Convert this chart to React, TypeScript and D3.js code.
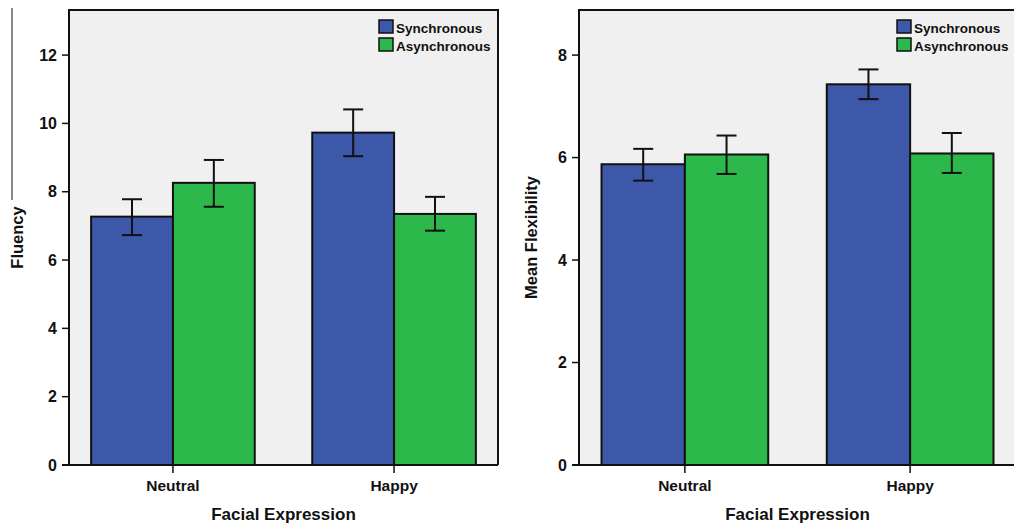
import * as d3 from "d3";

const categories = ["Neutral", "Happy"];
const seriesNames = ["Synchronous", "Asynchronous"];
const seriesColors = ["#3d57a9", "#2db84b"];

// Fluency (left panel)
const fluencySync = [7.27, 9.73];
const fluencySyncLo = [6.73, 9.04];
const fluencySyncHi = [7.78, 10.41];
const fluencyAsync = [8.26, 7.35];
const fluencyAsyncLo = [7.56, 6.86];
const fluencyAsyncHi = [8.93, 7.85];
const fluencyTicks = [0, 2, 4, 6, 8, 10, 12];

// Mean flexibility (right panel)
const flexSync = [5.87, 7.43];
const flexSyncLo = [5.55, 7.14];
const flexSyncHi = [6.17, 7.72];
const flexAsync = [6.06, 6.08];
const flexAsyncLo = [5.68, 5.7];
const flexAsyncHi = [6.43, 6.48];
const flexTicks = [0, 2, 4, 6, 8];

const FONT = "'Liberation Sans', Arial, sans-serif";
const TOP = 10;
const BOTTOM = 465;

type PanelProps = {
  x0: number;
  x1: number;
  yMax: number;
  ticks: number[];
  yLabel: string;
  yLabelX: number;
  means: number[][];
  lows: number[][];
  highs: number[][];
};

function Panel({ x0, x1, yMax, ticks, yLabel, yLabelX, means, lows, highs }: PanelProps) {
  const xBand = d3.scaleBand().domain(categories).range([x0, x1]).paddingInner(0.26).paddingOuter(0.1);
  const xSeries = d3.scaleBand().domain(seriesNames).range([0, xBand.bandwidth()]);
  const y = d3.scaleLinear().domain([0, yMax]).range([BOTTOM, TOP]);
  const midY = (TOP + BOTTOM) / 2;

  return (
    <g>
      <rect x={x0} y={TOP} width={x1 - x0} height={BOTTOM - TOP} fill="#f0f0f0" />
      {categories.map((c, ci) =>
        seriesNames.map((s, si) => {
          const bx = (xBand(c) ?? 0) + (xSeries(s) ?? 0);
          const bw = xSeries.bandwidth();
          const cx = bx + bw / 2;
          return (
            <g key={c + s}>
              <rect x={bx} y={y(means[si][ci])} width={bw} height={BOTTOM - y(means[si][ci])}
                fill={seriesColors[si]} stroke="#111" strokeWidth={2} />
              <line x1={cx} x2={cx} y1={y(highs[si][ci])} y2={y(lows[si][ci])} stroke="#111" strokeWidth={2} />
              <line x1={cx - 10} x2={cx + 10} y1={y(highs[si][ci])} y2={y(highs[si][ci])} stroke="#111" strokeWidth={2} />
              <line x1={cx - 10} x2={cx + 10} y1={y(lows[si][ci])} y2={y(lows[si][ci])} stroke="#111" strokeWidth={2} />
            </g>
          );
        })
      )}
      {/* frame */}
      <path d={`M${x0},${BOTTOM}V${TOP}H${x1}V${BOTTOM}`} fill="none" stroke="#111" strokeWidth={2} />
      <line x1={x0 - 7} x2={x1} y1={BOTTOM} y2={BOTTOM} stroke="#111" strokeWidth={2} />
      {/* y ticks */}
      {ticks.map((t) => (
        <g key={t}>
          <line x1={x0 - 7} x2={x0} y1={y(t)} y2={y(t)} stroke="#111" strokeWidth={1.5} />
          <text x={x0 - 12} y={y(t)} dy="0.36em" textAnchor="end" fontSize={16} fontWeight="bold" fontFamily={FONT} fill="#111">
            {t}
          </text>
        </g>
      ))}
      {/* x ticks */}
      {categories.map((c) => {
        const cx = (xBand(c) ?? 0) + xBand.bandwidth() / 2;
        return (
          <g key={c}>
            <line x1={cx} x2={cx} y1={BOTTOM} y2={BOTTOM + 8} stroke="#111" strokeWidth={1.5} />
            <text x={cx} y={491} textAnchor="middle" fontSize={15.5} fontWeight="bold" fontFamily={FONT} fill="#111">
              {c}
            </text>
          </g>
        );
      })}
      <text x={(x0 + x1) / 2} y={520} textAnchor="middle" fontSize={17} fontWeight="bold" fontFamily={FONT} fill="#111">
        Facial Expression
      </text>
      <text transform={`translate(${yLabelX},${midY}) rotate(-90)`} textAnchor="middle" dy="0.36em"
        fontSize={16.5} fontWeight="bold" fontFamily={FONT} fill="#111">
        {yLabel}
      </text>
      {/* legend */}
      {seriesNames.map((s, si) => (
        <g key={s}>
          <rect x={x1 - 119} y={20 + si * 18} width={14} height={13} fill={seriesColors[si]} stroke="#111" strokeWidth={1.5} />
          <text x={x1 - 102} y={33 + si * 18} fontSize={13.5} fontWeight="bold" fontFamily={FONT} fill="#111">
            {s}
          </text>
        </g>
      ))}
    </g>
  );
}

export default function App() {
  return (
    <svg width={1014} height={523} style={{ position: "absolute", left: 0, top: 0, background: "#fff" }}>
      <line x1={12} x2={12} y1={8} y2={200} stroke="#888" strokeWidth={2} />
      <Panel x0={69} x1={498} yMax={13.32} ticks={fluencyTicks} yLabel="Fluency" yLabelX={17}
        means={[fluencySync, fluencyAsync]} lows={[fluencySyncLo, fluencyAsyncLo]} highs={[fluencySyncHi, fluencyAsyncHi]} />
      <Panel x0={579} x1={1016} yMax={8.88} ticks={flexTicks} yLabel="Mean Flexibility" yLabelX={531}
        means={[flexSync, flexAsync]} lows={[flexSyncLo, flexAsyncLo]} highs={[flexSyncHi, flexAsyncHi]} />
    </svg>
  );
}
